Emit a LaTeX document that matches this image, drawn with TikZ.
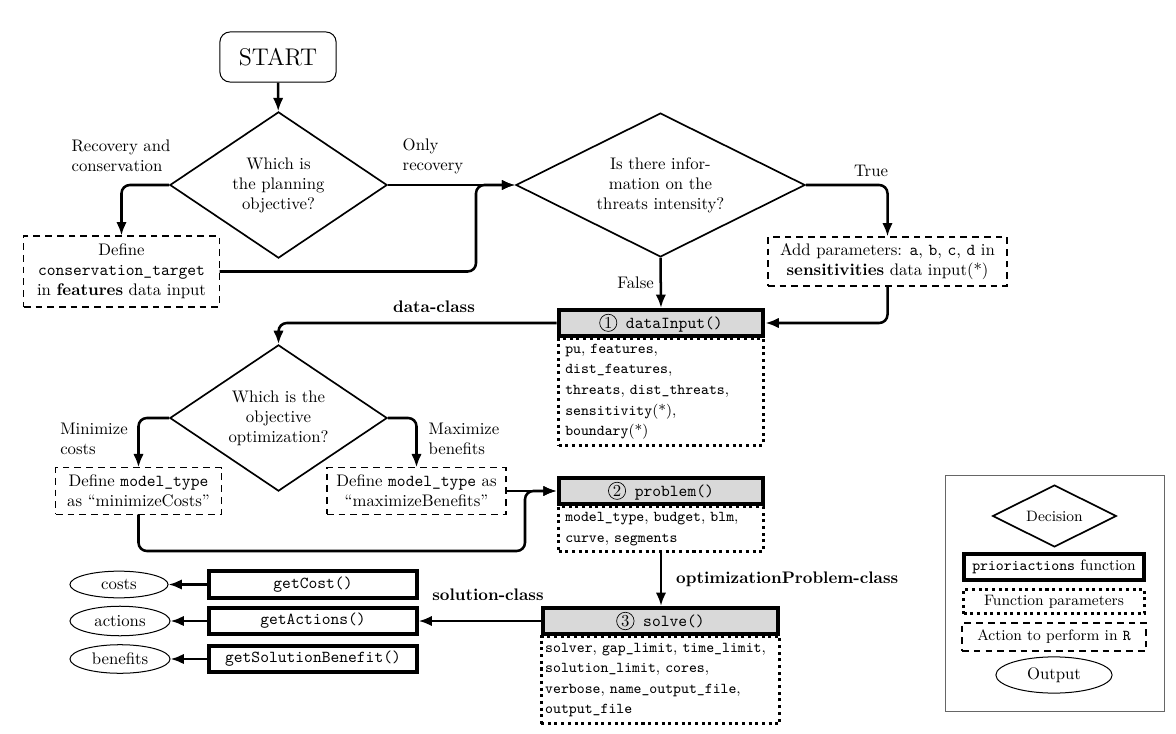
\documentclass[tikz,border=0pt]{standalone}
\usepackage{amsmath}
\usepackage{amssymb}
\usepackage{tikz}
\usetikzlibrary{shapes.geometric,arrows.meta}

\newcommand{\stepnum}[1]{\tikz[baseline=(sn.base)]\node[circle,draw=black,fill=none,line width=0.4pt,inner sep=0.7pt,minimum size=0pt,font=\normalsize\rmfamily](sn){#1};}

\begin{document}
\begin{tikzpicture}[x=0.021cm,y=-0.021cm,
  dec/.style={diamond,draw,line width=1pt,aspect=1.5,inner sep=1pt,align=center},
  act/.style={draw,line width=0.7pt,dash pattern=on 4pt off 3pt,align=center,inner sep=2pt},
  fn/.style={draw,line width=2.4pt,font=\ttfamily,minimum height=0.55cm,inner sep=1pt},
  fng/.style={fn,fill=gray!30},
  par/.style={draw,line width=1.8pt,dash pattern=on 1.8pt off 2.2pt,align=left,anchor=north,inner xsep=4pt,font=\small\linespread{1.12}\selectfont},
  outp/.style={ellipse,draw,line width=0.6pt,inner sep=1pt},
  arr/.style={line width=1.5pt,-{Latex[length=2.8mm,width=2.2mm]},rounded corners=5pt}]
  \useasboundingbox (0,0) rectangle (1176,734);

  \node [draw,line width=0.6pt,rounded corners=6pt,minimum width=2.44cm,minimum height=1.05cm,font=\Large] (start) at (278,57) {START};
  \node [dec,minimum width=4.56cm,minimum height=3.07cm] (d1) at (278.5,185) {Which is\\the planning\\objective?};
  \node [dec,aspect=2,minimum width=6.07cm,minimum height=3.02cm] (d2) at (660.5,185) {Is there infor-\\mation on the\\threats intensity?};
  \node [act,minimum width=4.1cm,minimum height=1.49cm] (target) at (121.5,271.5) {Define\\\texttt{conservation\_target}\\in \textbf{features} data input};
  \node [act,minimum width=5.02cm,minimum height=1.03cm] (sens) at (887.5,261.5) {Add parameters: \texttt{a}, \texttt{b}, \texttt{c}, \texttt{d} in\\\textbf{sensitivities} data input(*)};

  \node [par,text width=4.02cm,minimum height=2.23cm] (par1) at (661,337) {\texttt{pu}, \texttt{features},\\\texttt{dist\_features},\\\texttt{threats}, \texttt{dist\_threats},\\\texttt{sensitivity}(*),\\\texttt{boundary}(*)};
  \node [fng,minimum width=4.3cm] (fn1) at (661,323) {\stepnum{1} dataInput()};

  \node [dec,minimum width=4.56cm,minimum height=3.07cm] (d3) at (278.5,418) {Which is the\\objective\\optimization?};
  \node [act,minimum width=3.47cm,minimum height=0.97cm] (mincost) at (138.5,491) {Define \texttt{model\_type}\\as ``minimizeCosts''};
  \node [act,minimum width=3.76cm,minimum height=0.97cm] (maxben) at (416.5,491) {Define \texttt{model\_type} as\\``maximizeBenefits''};

  \node [par,text width=4.02cm,minimum height=0.95cm] (par2) at (661,505) {\texttt{model\_type}, \texttt{budget}, \texttt{blm},\\\texttt{curve}, \texttt{segments}};
  \node [fng,minimum width=4.3cm] (fn2) at (661,491) {\stepnum{2} problem()};

  \node [par,inner xsep=2.5pt,text width=4.84cm,minimum height=1.83cm] (par3) at (660.5,635) {\texttt{solver}, \texttt{gap\_limit}, \texttt{time\_limit},\\\texttt{solution\_limit}, \texttt{cores},\\\texttt{verbose}, \texttt{name\_output\_file},\\\texttt{output\_file}};
  \node [fng,minimum width=4.95cm] (fn3) at (660.5,621) {\stepnum{3} solve()};

  \node [fn,minimum width=4.35cm] (gcost) at (313,584.5) {getCost()};
  \node [fn,minimum width=4.35cm] (gact) at (313,621) {getActions()};
  \node [fn,minimum width=4.35cm] (gben) at (313,659) {getSolutionBenefit()};
  \node [outp,minimum width=2.06cm,minimum height=0.56cm] (costs) at (119,584.5) {costs};
  \node [outp,minimum width=2.1cm,minimum height=0.62cm] (actions) at (120,621) {actions};
  \node [outp,minimum width=2.1cm,minimum height=0.6cm] (benefits) at (120,659) {benefits};

  \coordinate (j1) at (476,185);
  \coordinate (j2) at (525,551);

  \draw [arr] (start) -- (d1);
  \draw [arr] (d1.west) -| (target.north);
  \draw [arr] (d1.east) -- (d2.west);
  \draw [arr] (target.east) -| (j1) -- (d2.west);
  \draw [arr] (d2.east) -| (sens.north);
  \draw [arr] (d2.south) -- (fn1.north) node [midway,left] {False};
  \draw [arr] (sens.south) |- (fn1.east);
  \draw [arr] (fn1.west) -| (d3.north);
  \draw [arr] (d3.west) -| (mincost.north);
  \draw [arr] (d3.east) -| (maxben.north);
  \draw [arr] (maxben.east) -- (fn2.west);
  \draw [arr] (mincost.south) |- (j2) |- (fn2.west);
  \draw [arr] (par2.south) -- (par2.south |- fn3.north) node [midway,right=5pt] {\textbf{optimizationProblem-class}};
  \draw [arr] (fn3.west) -- (gact.east);
  \draw [arr] (gcost.west) -- (costs.east);
  \draw [arr] (gact.west) -- (actions.east);
  \draw [arr] (gben.west) -- (benefits.east);

  \node [align=left] (lrc) at (121,156) {Recovery and\\conservation};
  \node [align=left] (lor) at (433,156) {Only\\recovery};
  \node (ltrue) at (871,171) {True};
  \node (ldc) at (434,307) {\textbf{data-class}};
  \node [align=left] (lmin) at (94,439) {Minimize\\costs};
  \node [align=left] (lmax) at (464,439) {Maximize\\benefits};
  \node (lsc) at (488,595) {\textbf{solution-class}};

  \node [draw=black!60,line width=0.5pt,minimum width=4.6cm,minimum height=4.94cm] (legend) at (1054.5,593.5) {};
  \node [dec,aspect=2,font=\small,minimum width=2.6cm,minimum height=1.3cm] (ldec) at (1054.5,516) {Decision};
  \node [fn,font=\small,minimum width=3.78cm] (lfn) at (1054,567) {\texttt{prioriactions} function};
  \node [par,anchor=center,minimum width=3.8cm,minimum height=0.5cm] (lpar) at (1054,601.5) {Function parameters};
  \node [act,font=\small,minimum width=3.86cm,minimum height=0.59cm] (lact) at (1054,637) {Action to perform in \texttt{R}};
  \node [outp,minimum width=2.44cm,minimum height=0.76cm] (lout) at (1054,675) {Output};
\end{tikzpicture}
\end{document}
